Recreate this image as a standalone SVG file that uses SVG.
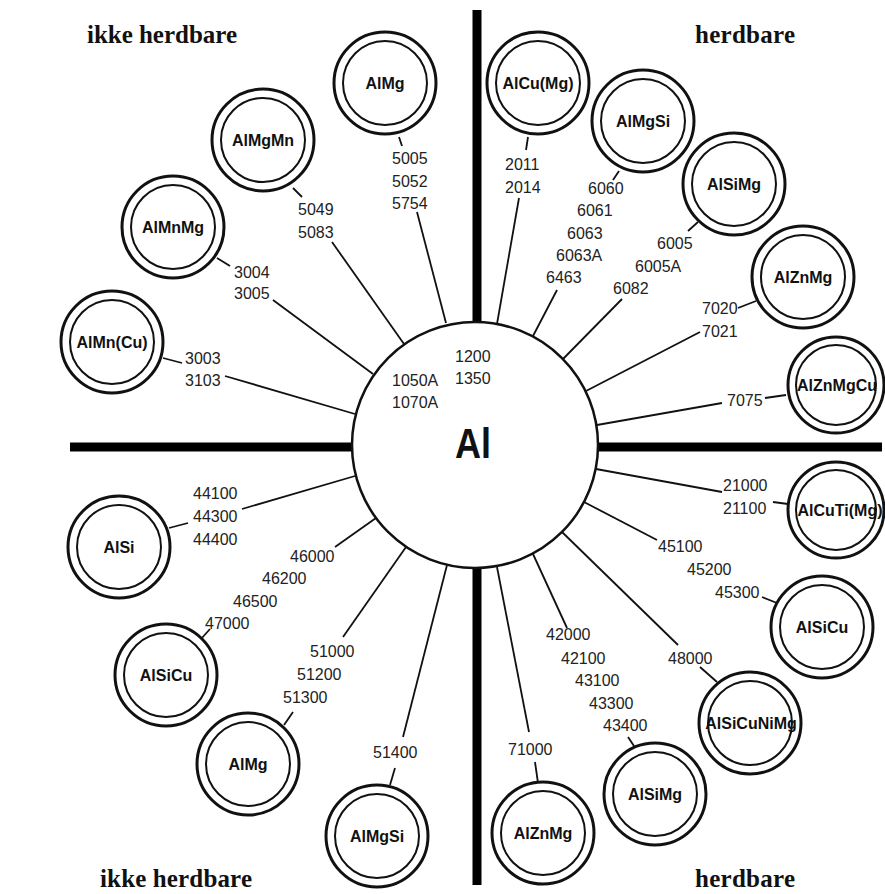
<svg xmlns="http://www.w3.org/2000/svg" width="885" height="894" viewBox="0 0 885 894">
<style>
.o{fill:#fff;stroke:#111;stroke-width:3}
.i{fill:none;stroke:#111;stroke-width:2}
.n{font-family:"Liberation Sans",Arial,sans-serif;font-size:16px;font-weight:bold;text-anchor:middle;fill:#111}
.l{font-family:"Liberation Sans",Arial,sans-serif;font-size:16px;fill:#222}
.h{font-family:"Liberation Serif","Times New Roman",serif;font-size:25px;font-weight:bold;fill:#111}
.c line{stroke:#111;stroke-width:1.8}
.bar{stroke:#000;stroke-width:9}
</style>
<rect width="885" height="894" fill="#fff"/>
<g id="axes">
<line class="bar" x1="70" y1="447" x2="354" y2="447"/>
<line class="bar" x1="596" y1="447" x2="882" y2="447"/>
<line class="bar" x1="477" y1="10" x2="477" y2="324"/>
<line class="bar" x1="477" y1="566" x2="477" y2="885"/>
</g>
<g id="headings">
<text class="h" x="87" y="43" textLength="150">ikke herdbare</text>
<text class="h" x="695" y="43" textLength="100">herdbare</text>
<text class="h" x="100" y="887" textLength="152">ikke herdbare</text>
<text class="h" x="695" y="887" textLength="100">herdbare</text>
</g>
<g class="c" id="connectors">
<line x1="399" y1="137" x2="402" y2="146"/><line x1="417" y1="212" x2="446" y2="323"/>
<line x1="293" y1="188" x2="302" y2="197"/><line x1="332" y1="242" x2="404" y2="344"/>
<line x1="217" y1="258" x2="230" y2="266"/><line x1="273" y1="300" x2="373" y2="374"/>
<line x1="163" y1="358" x2="182" y2="363"/><line x1="225" y1="376" x2="355" y2="414"/>
<line x1="528" y1="137" x2="526" y2="150"/><line x1="519" y1="198" x2="497" y2="324"/>
<line x1="619" y1="171" x2="613" y2="180"/><line x1="557" y1="290" x2="533" y2="336"/>
<line x1="698" y1="222" x2="688" y2="231"/><line x1="622" y1="299" x2="563" y2="359"/>
<line x1="756" y1="301" x2="738" y2="308"/><line x1="700" y1="332" x2="586" y2="391"/>
<line x1="786" y1="395" x2="765" y2="398"/><line x1="722" y1="403" x2="597" y2="425"/>
<line x1="169" y1="528" x2="188" y2="523"/><line x1="242" y1="509" x2="355" y2="476"/>
<line x1="201" y1="639" x2="210" y2="629"/><line x1="335" y1="547" x2="376" y2="518"/>
<line x1="284" y1="725" x2="293" y2="712"/><line x1="343" y1="637" x2="406" y2="547"/>
<line x1="390" y1="785" x2="395" y2="768"/><line x1="403" y1="737" x2="447" y2="565"/>
<line x1="788" y1="504" x2="773" y2="502"/><line x1="722" y1="492" x2="596" y2="469"/>
<line x1="777" y1="603" x2="762" y2="597"/><line x1="657" y1="540" x2="584" y2="502"/>
<line x1="717" y1="682" x2="700" y2="667"/><line x1="678" y1="645" x2="562" y2="532"/>
<line x1="634" y1="746" x2="628" y2="737"/><line x1="567" y1="628" x2="533" y2="554"/>
<line x1="538" y1="783" x2="535" y2="762"/><line x1="529" y1="732" x2="497" y2="567"/>
</g>
<g id="labels" class="l">
<text x="392" y="164">5005</text><text x="392" y="187">5052</text><text x="392" y="209">5754</text>
<text x="298" y="215">5049</text><text x="298" y="238">5083</text>
<text x="234" y="278">3004</text><text x="234" y="299">3005</text>
<text x="185" y="364">3003</text><text x="185" y="386">3103</text>
<text x="505" y="170">2011</text><text x="505" y="193">2014</text>
<text x="588" y="194">6060</text><text x="577" y="216">6061</text><text x="567" y="239">6063</text><text x="556" y="261">6063A</text><text x="546" y="283">6463</text>
<text x="657" y="249">6005</text><text x="635" y="272">6005A</text><text x="613" y="294">6082</text>
<text x="702" y="314">7020</text><text x="702" y="337">7021</text>
<text x="727" y="406">7075</text>
<text x="193" y="499">44100</text><text x="193" y="522">44300</text><text x="193" y="545">44400</text>
<text x="290" y="562">46000</text><text x="262" y="584">46200</text><text x="233" y="607">46500</text><text x="205" y="629">47000</text>
<text x="310" y="657">51000</text><text x="297" y="680">51200</text><text x="283" y="703">51300</text>
<text x="373" y="758">51400</text>
<text x="723" y="491">21000</text><text x="723" y="514">21100</text>
<text x="658" y="552">45100</text><text x="687" y="575">45200</text><text x="715" y="598">45300</text>
<text x="668" y="664">48000</text>
<text x="546" y="640">42000</text><text x="561" y="664">42100</text><text x="575" y="686">43100</text><text x="589" y="709">43300</text><text x="603" y="731">43400</text>
<text x="508" y="755">71000</text>
</g>
<g id="Al">
<circle cx="475" cy="445" r="123" fill="#fff" stroke="#111" stroke-width="2.5"/>
<text class="l" x="392" y="386">1050A</text><text class="l" x="392" y="408">1070A</text>
<text class="l" x="455" y="362">1200</text><text class="l" x="455" y="384">1350</text>
<text x="455" y="458" font-family="Liberation Sans,Arial,sans-serif" font-size="43" font-weight="bold" fill="#111" textLength="36" lengthAdjust="spacingAndGlyphs">Al</text>
</g>
<g id="n1"><circle class="o" cx="385" cy="83" r="51"/><circle class="i" cx="385" cy="83" r="42"/><text class="n" x="385" y="89">AlMg</text></g>
<g id="n2"><circle class="o" cx="263" cy="140" r="51"/><circle class="i" cx="263" cy="140" r="42"/><text class="n" x="263" y="146">AlMgMn</text></g>
<g id="n3"><circle class="o" cx="173" cy="227" r="51"/><circle class="i" cx="173" cy="227" r="42"/><text class="n" x="173" y="233">AlMnMg</text></g>
<g id="n4"><circle class="o" cx="112" cy="342" r="51"/><circle class="i" cx="112" cy="342" r="42"/><text class="n" x="112" y="348">AlMn(Cu)</text></g>
<g id="n5"><circle class="o" cx="538" cy="83" r="51"/><circle class="i" cx="538" cy="83" r="42"/><text class="n" x="538" y="89">AlCu(Mg)</text></g>
<g id="n6"><circle class="o" cx="643" cy="121" r="51"/><circle class="i" cx="643" cy="121" r="42"/><text class="n" x="643" y="127">AlMgSi</text></g>
<g id="n7"><circle class="o" cx="734" cy="184" r="51"/><circle class="i" cx="734" cy="184" r="42"/><text class="n" x="734" y="190">AlSiMg</text></g>
<g id="n8"><circle class="o" cx="803" cy="277" r="51"/><circle class="i" cx="803" cy="277" r="42"/><text class="n" x="803" y="283">AlZnMg</text></g>
<g id="n9"><circle class="o" cx="836" cy="385" r="48"/><circle class="i" cx="836" cy="385" r="40"/><text class="n" x="837" y="391">AlZnMgCu</text></g>
<g id="n10"><circle class="o" cx="119" cy="547" r="51"/><circle class="i" cx="119" cy="547" r="42"/><text class="n" x="119" y="553">AlSi</text></g>
<g id="n11"><circle class="o" cx="166" cy="675" r="51"/><circle class="i" cx="166" cy="675" r="42"/><text class="n" x="166" y="681">AlSiCu</text></g>
<g id="n12"><circle class="o" cx="248" cy="764" r="51"/><circle class="i" cx="248" cy="764" r="42"/><text class="n" x="248" y="770">AlMg</text></g>
<g id="n13"><circle class="o" cx="377" cy="836" r="51"/><circle class="i" cx="377" cy="836" r="42"/><text class="n" x="377" y="842">AlMgSi</text></g>
<g id="n14"><circle class="o" cx="836" cy="510" r="48"/><circle class="i" cx="836" cy="510" r="40"/><text class="n" x="840" y="516">AlCuTi(Mg)</text></g>
<g id="n15"><circle class="o" cx="822" cy="627" r="51"/><circle class="i" cx="822" cy="627" r="42"/><text class="n" x="822" y="633">AlSiCu</text></g>
<g id="n16"><circle class="o" cx="750" cy="723" r="51"/><circle class="i" cx="750" cy="723" r="42"/><text class="n" x="751" y="729">AlSiCuNiMg</text></g>
<g id="n17"><circle class="o" cx="655" cy="794" r="51"/><circle class="i" cx="655" cy="794" r="42"/><text class="n" x="655" y="800">AlSiMg</text></g>
<g id="n18"><circle class="o" cx="543" cy="833" r="51"/><circle class="i" cx="543" cy="833" r="42"/><text class="n" x="543" y="839">AlZnMg</text></g>
</svg>
